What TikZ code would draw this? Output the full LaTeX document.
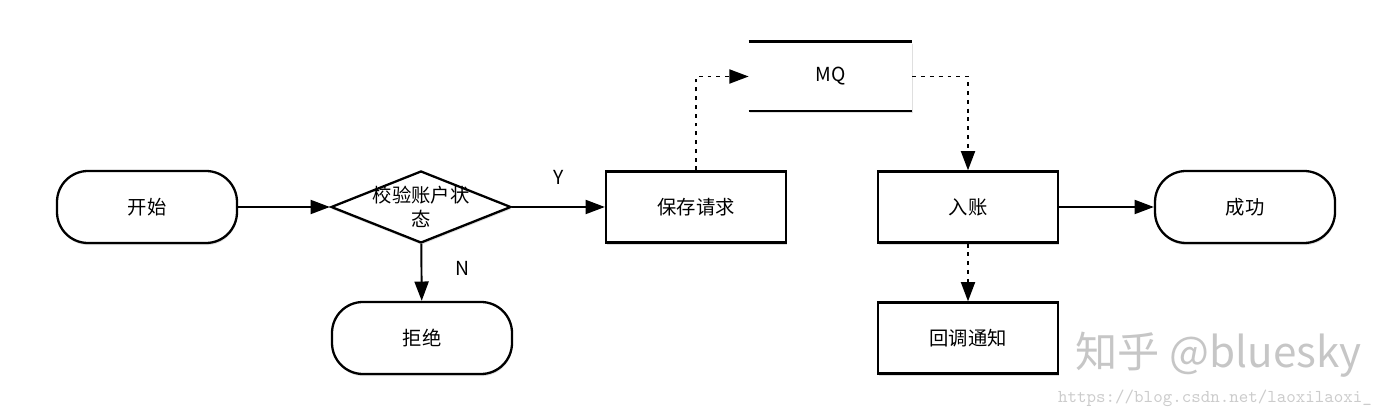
\documentclass[tikz,border=0pt]{standalone}
\usepackage{fontspec}
\setmainfont{Noto Sans CJK SC}
\usepackage{tikz}
\usetikzlibrary{positioning,shapes.geometric,arrows.meta,shadows}

\begin{document}
\begin{tikzpicture}[
				font=\fontsize{11}{13.5}\selectfont,
				shade/.style={
					drop shadow={opacity=0.25,shadow xshift=0.3pt,shadow yshift=-1.2pt}
				},
				terminal/.style={
					rectangle,
					draw=black,
					line width=1.3pt,
					minimum width=3.6cm,
					minimum height=1.44cm,
					rounded corners=0.62cm,
					fill=white,
					shade
				},
				process/.style={
					rectangle,
					draw=black,
					line width=1.3pt,
					minimum width=3.6cm,
					minimum height=1.42cm,
					fill=white,
					shade
				},
				decision/.style={
					diamond,
					draw=black,
					line width=1.3pt,
					minimum width=3.6cm,
					minimum height=1.44cm,
					inner sep=0pt,
					fill=white,
					shade
				},
				arrow/.style={
					-{Triangle[length=11pt,width=8pt]},
					line width=1.1pt
				},
				dotarrow/.style={
					arrow,
					dash pattern=on 2.2pt off 2.8pt
				}
			]
			\useasboundingbox (0,0) rectangle (27.92,8.32);
			% Nodes
			\node[terminal] (start) at (2.94,4.18) {开始};
			\node[decision, label={[align=center]center:校验账户状\\态}] (check) at (8.42,4.18) {};
			\node[terminal] (reject) at (8.44,1.56) {拒绝};
			\node[process] (save) at (13.92,4.18) {保存请求};
			\node[rectangle, minimum width=3.26cm, minimum height=1.38cm, fill=white, shade] (mq) at (16.61,6.79) {MQ};
			\draw[line width=1.3pt] (mq.north west) -- (mq.north east) (mq.south west) -- (mq.south east);
			\node[process] (post) at (19.36,4.18) {入账};
			\node[terminal] (success) at (24.9,4.18) {成功};
			\node[process] (notify) at (19.36,1.56) {回调通知};

			% Watermark
			\node[text=gray!45, font=\fontsize{24}{28}\selectfont] (mark) at (24.37,1.22) {知乎 @bluesky};
			\node[text=gray!40, font=\ttfamily\fontsize{10.3}{12}\selectfont] (url) at (24.3,0.36) {https://blog.csdn.net/laoxilaoxi\_};

			\draw[arrow] (start) -- (check);
			\draw[arrow] (check) -- (save) node[midway,above=0.32cm] {Y};
			\draw[arrow] (check) -- (reject) node[midway,right=0.55cm,yshift=0.08cm] {N};
			\draw[dotarrow] (save.north) |- (mq.west);
			\draw[dotarrow] (mq.east) -| (post.north);
			\draw[arrow] (post) -- (success);
			\draw[dotarrow] (post) -- (notify);
		\end{tikzpicture}
\end{document}
